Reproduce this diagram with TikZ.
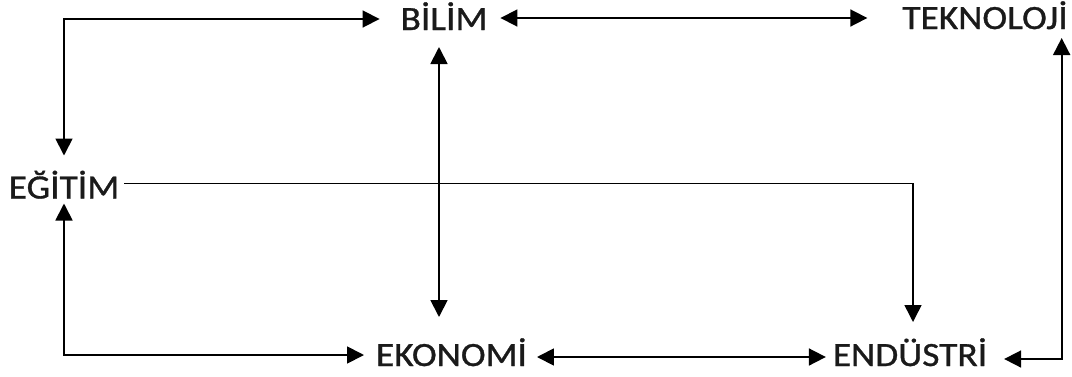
\documentclass[tikz,border=0pt]{standalone}
\usepackage{fontspec}
\setmainfont{Carlito}[FakeBold=0.9]
\usetikzlibrary{arrows.meta}
\definecolor{ink}{HTML}{1A1A1A}
\begin{document}
\begin{tikzpicture}[x=1pt,y=-1pt,
    term/.style={inner sep=0pt, outer sep=0pt, text height=22pt, text depth=0pt,
      font=\fontsize{34}{40}\selectfont, text=ink, xscale=1.1},
    link/.style={line width=1.8pt, draw=black},
    tip/.tip={Triangle[length=17pt,width=17pt]},
    dbl/.style={link, tip-tip},
    one/.style={link, -tip}]
  \useasboundingbox (0,0) rectangle (1072,376);

  % concepts
  \node[term] (bilim)     at (444,19)    {BİLİM};
  \node[term] (teknoloji) at (985,18)    {TEKNOLOJİ};
  \node[term] (egitim)    at (64,187.5)  {EĞİTİM};
  \node[term] (ekonomi)   at (451.5,355) {EKONOMİ};
  \node[term] (endustri)  at (910,355)   {ENDÜSTRİ};

  % relations
  \draw[dbl, shorten <=21pt, shorten >=21pt]
    (egitim.north) |- (bilim.west);
  \draw[dbl, shorten <=13pt, shorten >=35pt]
    ([yshift=1pt]bilim.east) -- ([yshift=1pt]bilim.east -| teknoloji.west);
  \draw[dbl, shorten <=17pt, shorten >=27pt]
    ([xshift=-5pt]bilim.south) -- ([xshift=-5pt]bilim.south |- ekonomi.north);
  \draw[one, line width=1.5pt, shorten <=5pt, shorten >=22pt]
    ([yshift=4pt]egitim.east) -| ([xshift=3pt]endustri.north);
  \draw[dbl, shorten <=5pt, shorten >=12pt]
    (egitim.south) |- (ekonomi.west);
  \draw[dbl, shorten <=10pt, shorten >=7pt]
    ([yshift=-2pt]ekonomi.east) -- ([yshift=-2pt]ekonomi.east -| endustri.west);
  \draw[dbl, shorten <=17pt, shorten >=9pt]
    ([yshift=-4pt]endustri.east) -| ([xshift=-6pt]teknoloji.south east);
\end{tikzpicture}
\end{document}
